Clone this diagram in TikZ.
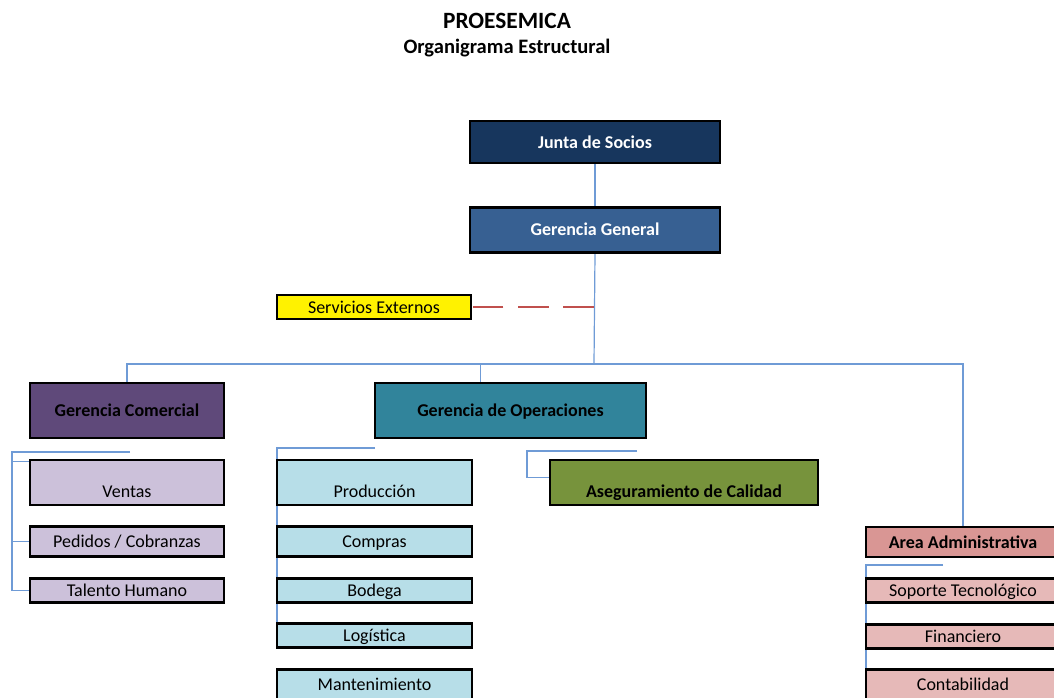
\documentclass[tikz,border=0pt]{standalone}
\usepackage{fontspec}
\setmainfont{Carlito}
\usetikzlibrary{positioning, calc, backgrounds}
\usepackage{xcolor}

\definecolor{juntablue}{HTML}{17365D}
\definecolor{gerblue}{HTML}{376092}
\definecolor{comviolet}{HTML}{5F497A}
\definecolor{opteal}{HTML}{31849B}
\definecolor{calgreen}{HTML}{77933C}
\definecolor{admrose}{HTML}{D99694}
\definecolor{lavender}{HTML}{CCC1DA}
\definecolor{paleblue}{HTML}{B7DEE8}
\definecolor{palerose}{HTML}{E6B9B8}
\definecolor{linkblue}{HTML}{6F9BD6}
\definecolor{dashred}{HTML}{C0504D}

\begin{document}
\begin{tikzpicture}[
    x=0.75pt, y=-0.75pt,
    box/.style={draw=black, line width=2.2pt, rectangle, inner sep=0pt, minimum width=145.5pt, align=center, text height=10.5pt, text depth=1.5pt, font=\fontsize{13.5}{16}\selectfont},
    head/.style={box, font=\fontsize{13.5}{16}\selectfont\bfseries},
    lowtext/.style={text height=28pt, text depth=5.75pt},
    conn/.style={draw=linkblue, line width=0.9pt},
    dashline/.style={draw=dashred, line width=2pt, dash pattern=on 23pt off 11pt}
]
    \clip (0,0) rectangle (1054,697);
    \useasboundingbox (0,0) rectangle (1054,697);

    % Title
    \node (title) at (507,21) {\fontsize{17.5}{20}\selectfont\bfseries PROESEMICA};
    \node (subtitle) at (507,48) {\fontsize{15.4}{18}\selectfont\bfseries Organigrama Estructural};

    % Top
    \node[head, fill=juntablue, text=white, minimum width=187.5pt, minimum height=31.5pt] (junta) at (595,142) {Junta de Socios};
    \node[head, fill=gerblue, text=white, minimum width=187.5pt, minimum height=33.75pt] (gergen) [below=31pt of junta] {Gerencia General};
    \node[box, fill=yellow, minimum height=18pt] (servicios) at (374,307) {Servicios Externos};

    % Gerencias
    \node[head, fill=comviolet, minimum height=41.25pt] (comercial) at (127,410.5) {Gerencia Comercial};
    \node[head, fill=opteal, minimum width=203.25pt, minimum height=41.25pt] (oper) at (510.5,410.5) {Gerencia de Operaciones};
    \node[head, fill=calgreen, lowtext, minimum width=201pt, minimum height=33.75pt] (calidad) at (684,482.5) {Aseguramiento de Calidad};
    \node[head, fill=admrose, minimum height=22.5pt] (admin) at (963,542) {Area Administrativa};

    % Comercial
    \node[box, fill=lavender, lowtext, minimum height=33.75pt] (ventas) at (127,482.5) {Ventas};
    \node[box, fill=lavender, minimum height=22.5pt] (pedidos) [below=14pt of ventas] {Pedidos / Cobranzas};
    \node[box, fill=lavender, minimum height=18pt] (talento) [below=14pt of pedidos] {Talento Humano};

    % Operaciones
    \node[box, fill=paleblue, lowtext, minimum width=146.25pt, minimum height=33.75pt] (produccion) at (374.5,482.5) {Producción};
    \node[box, fill=paleblue, minimum width=146.25pt, minimum height=22.5pt] (compras) [below=14pt of produccion] {Compras};
    \node[box, fill=paleblue, minimum width=146.25pt, minimum height=18pt] (bodega) [below=14pt of compras] {Bodega};
    \node[box, fill=paleblue, minimum width=146.25pt, minimum height=18pt] (logistica) [below=14pt of bodega] {Logística};
    \node[box, fill=paleblue, minimum width=146.25pt, minimum height=22.5pt] (mantenimiento) [below=14pt of logistica] {Mantenimiento};

    % Administrativa
    \node[box, fill=palerose, minimum height=18pt] (soporte) [below=14pt of admin] {Soporte Tecnológico};
    \node[box, fill=palerose, minimum height=18pt] (financiero) [below=14pt of soporte] {Financiero};
    \node[box, fill=palerose, minimum height=22.5pt] (contabilidad) [below=14pt of financiero] {Contabilidad};

    % Lines
    \coordinate (bus) at (594,364);
    \coordinate (opdrop) at ($(oper.north)+(-30,0)$);
    \coordinate (comtop) at (130,452);
    \coordinate (comL) at (12,452);
    \coordinate (ventop) at ($(ventas.north west)+(0,3)$);
    \coordinate (opR) at (375,448);
    \coordinate (opL) at (277,448);
    \coordinate (calR) at (637,451);
    \coordinate (calL) at (527,451);
    \coordinate (calT) at ($(calidad.west)+(0,-5)$);
    \coordinate (admR) at (943,565);
    \coordinate (admL) at (866,565);

    \begin{scope}[on background layer]
        \draw[conn] (junta.south) -- (gergen.north);
        \draw[conn] (gergen.south) -- (bus);
        \draw[conn] (comercial.north) |- (bus) -| (admin.north);
        \draw[conn] (opdrop) -- (opdrop |- bus);
        \draw[conn] (comtop) -- (comL) |- (talento.west);
        \draw[conn] (comL |- pedidos.west) -- (pedidos.west);
        \draw[conn] (comL |- ventop) -- (ventop);
        \draw[conn] (opR) -- (opL) -- (opL |- logistica.center);
        \draw[conn] (calR) -- (calL) |- (calT -| calidad.west);
        \draw[conn] (admR) -- (admL) -- (admL |- contabilidad.south);
    \end{scope}
    \draw[dashline] (servicios.east -| bus) -- (servicios.east);

\end{tikzpicture}
\end{document}
